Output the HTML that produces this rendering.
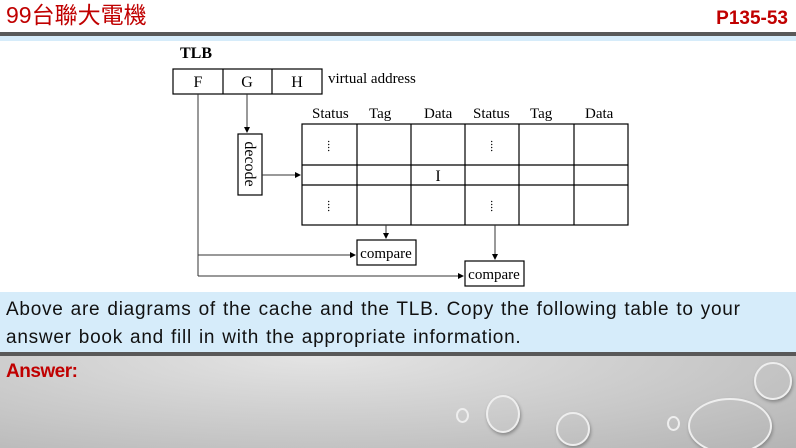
<!DOCTYPE html>
<html><head><meta charset="utf-8"><style>
body{margin:0;width:796px;height:448px;overflow:hidden;position:relative;background:#fff;font-family:"Liberation Sans",sans-serif}
.a{position:absolute}
</style></head><body>
<div class="a" style="left:6px;top:1px;font-size:23px;color:#c00000;font-family:'Liberation Sans','Noto Sans CJK TC',sans-serif;line-height:28px">99台聯大電機</div>
<div class="a" style="right:8px;top:7px;font-size:19px;font-weight:bold;color:#c00000;line-height:24px">P135-53</div>
<div class="a" style="left:0;top:32px;width:796px;height:4px;background:#595959"></div>
<div class="a" style="left:0;top:36px;width:796px;height:5px;background:#d6ecfa"></div>
<svg class="a" style="left:0;top:0" width="796" height="292" font-family="Liberation Serif,serif" font-size="15">
<defs><marker id="m" markerWidth="6" markerHeight="6" refX="5" refY="3" orient="auto"><path d="M0,0L6,3L0,6z" fill="#000"/></marker></defs>
<text x="180" y="58" font-weight="bold" font-size="16">TLB</text>
<g fill="none" stroke="#000" stroke-width="1.2">
<rect x="173" y="69" width="149" height="25"/><line x1="223" y1="69" x2="223" y2="94"/><line x1="272" y1="69" x2="272" y2="94"/>
<rect x="302" y="124" width="326" height="101"/>
<line x1="302" y1="165" x2="628" y2="165"/><line x1="302" y1="185" x2="628" y2="185"/>
<line x1="357" y1="124" x2="357" y2="225"/><line x1="411" y1="124" x2="411" y2="225"/><line x1="465" y1="124" x2="465" y2="225"/><line x1="519" y1="124" x2="519" y2="225"/><line x1="574" y1="124" x2="574" y2="225"/>
<rect x="238" y="134" width="24" height="61"/>
<rect x="357" y="240" width="59" height="25"/>
<rect x="465" y="261" width="59" height="25"/>
</g>
<g stroke="#333" stroke-width="1" fill="none">
<path d="M198,94V276"/>
<path d="M198,255H355" marker-end="url(#m)"/>
<path d="M198,276H463" marker-end="url(#m)"/>
<path d="M247,94V132" marker-end="url(#m)"/>
<path d="M262,175H300" marker-end="url(#m)"/>
<path d="M386,225V238" marker-end="url(#m)"/>
<path d="M495,225V259" marker-end="url(#m)"/>
</g>
<text x="198" y="87" text-anchor="middle" font-size="16">F</text><text x="247" y="87" text-anchor="middle" font-size="16">G</text><text x="297" y="87" text-anchor="middle" font-size="16">H</text>
<text x="328" y="83">virtual address</text>
<text x="312" y="118">Status</text><text x="369" y="118">Tag</text><text x="424" y="118">Data</text><text x="473" y="118">Status</text><text x="530" y="118">Tag</text><text x="585" y="118">Data</text>
<text x="438" y="181" text-anchor="middle" font-size="16">I</text>
<g font-size="12" text-anchor="middle"><text x="331" y="149" transform="rotate(90 331 146)">....</text><text x="331" y="209" transform="rotate(90 331 206)">....</text><text x="494" y="149" transform="rotate(90 494 146)">....</text><text x="494" y="209" transform="rotate(90 494 206)">....</text></g>
<text x="245" y="164" transform="rotate(90 245 164)" text-anchor="middle" font-size="16">decode</text>
<text x="386" y="258" text-anchor="middle">compare</text>
<text x="494" y="279" text-anchor="middle">compare</text>
</svg>
<div class="a" style="left:0;top:292px;width:796px;height:60px;background:#d6ecfa"></div>
<div class="a" style="left:6px;top:296px;font-size:19px;line-height:28px;color:#111;letter-spacing:0.75px;word-spacing:1px;white-space:nowrap">Above are diagrams of the cache and the TLB. Copy the following table to your<br>answer book and fill in with the appropriate information.</div>
<div class="a" style="left:0;top:352px;width:796px;height:4px;background:#595959"></div>
<div class="a" style="left:0;top:356px;width:796px;height:92px;background:radial-gradient(ellipse at 40% 0%,#e4e4e4,#c8c8c8 60%,#b4b4b4);overflow:hidden">
<div class="a" style="left:486px;top:39px;width:30px;height:34px;border-radius:50%;border:2px solid #eee;box-shadow:1px 2px 3px #888"></div>
<div class="a" style="left:556px;top:56px;width:30px;height:30px;border-radius:50%;border:2px solid #eee;box-shadow:1px 2px 3px #888"></div>
<div class="a" style="left:456px;top:52px;width:9px;height:11px;border-radius:50%;border:2px solid #eee"></div>
<div class="a" style="left:754px;top:6px;width:34px;height:34px;border-radius:50%;border:2px solid #eee;box-shadow:1px 2px 3px #888"></div>
<div class="a" style="left:688px;top:42px;width:80px;height:52px;border-radius:50%;border:2px solid #eee;box-shadow:1px 2px 3px #888"></div>
<div class="a" style="left:667px;top:60px;width:9px;height:11px;border-radius:50%;border:2px solid #eee"></div>
</div>
<div class="a" style="left:6px;top:361px;font-size:19px;font-weight:bold;color:#c00000;letter-spacing:-0.5px">Answer:</div>
</body></html>
